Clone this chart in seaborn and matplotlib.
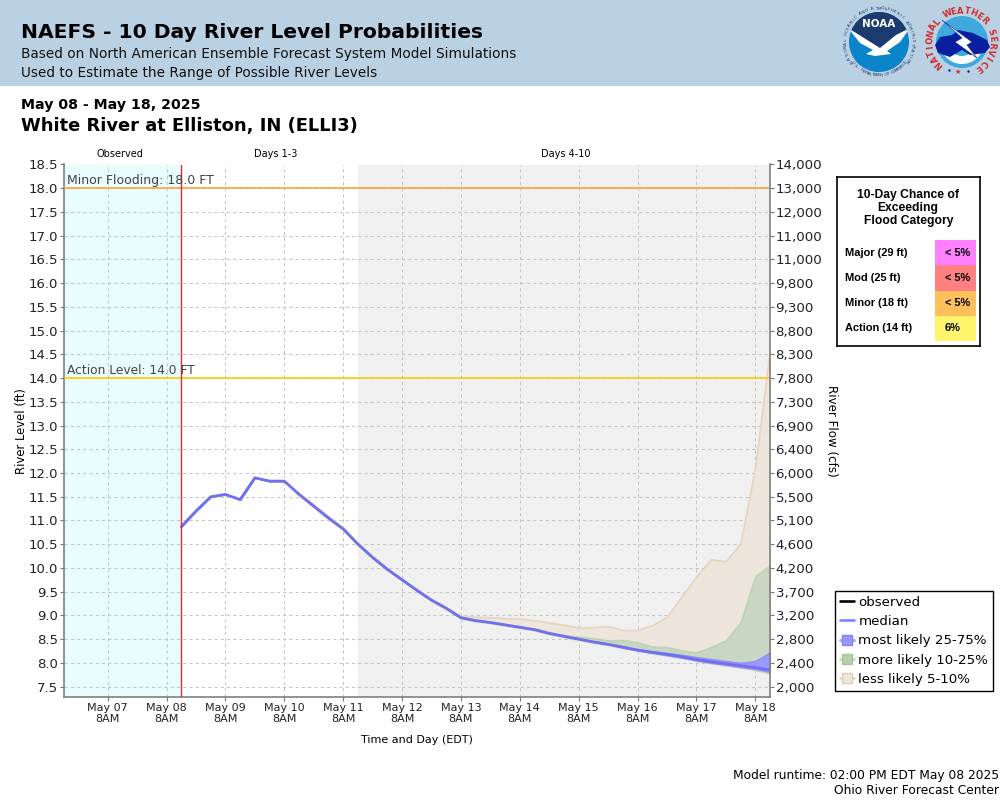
import numpy as np
import pandas as pd
import matplotlib.pyplot as plt
from matplotlib.colors import ListedColormap
from matplotlib.lines import Line2D
from matplotlib.patches import Circle, Polygon, Rectangle, Wedge
import seaborn as sns  # 시각화 라이브러리(패키지)

sns.set_style("white")
plt.rcParams['axes.unicode_minus'] = False
plt.rcParams['font.family'] = ['DejaVu Sans']
plt.rcParams['text.color'] = 'black'
plt.rcParams['axes.labelcolor'] = 'black'
plt.rcParams['ytick.color'] = 'black'

# 예측 구간 데이터 (6시간 간격, 41개)
rivdf = pd.DataFrame({
    "time": pd.date_range("2025-05-08 14:00", periods=41, freq="6h"),
    "q05": [10.87, 11.2, 11.5, 11.55, 11.44, 11.9, 11.83, 11.83, 11.54, 11.29, 11.04, 10.81, 10.49, 10.21, 9.96, 9.74, 9.52, 9.31, 9.14, 8.94,
            8.88, 8.84, 8.79, 8.74, 8.69, 8.61, 8.55, 8.49, 8.43, 8.38, 8.32, 8.26, 8.21, 8.16, 8.11, 8.05, 7.99, 7.95, 7.9, 7.85, 7.78],
    "q10": [10.87, 11.2, 11.5, 11.55, 11.44, 11.9, 11.83, 11.83, 11.54, 11.29, 11.04, 10.81, 10.49, 10.21, 9.96, 9.74, 9.52, 9.31, 9.14, 8.94,
            8.88, 8.84, 8.79, 8.74, 8.69, 8.61, 8.55, 8.49, 8.43, 8.38, 8.32, 8.26, 8.21, 8.16, 8.11, 8.05, 8.0, 7.95, 7.91, 7.86, 7.79],
    "q25": [10.87, 11.2, 11.5, 11.55, 11.44, 11.9, 11.83, 11.83, 11.55, 11.3, 11.05, 10.82, 10.5, 10.22, 9.97, 9.75, 9.53, 9.32, 9.15, 8.95,
            8.89, 8.85, 8.8, 8.75, 8.7, 8.62, 8.56, 8.5, 8.44, 8.39, 8.32, 8.26, 8.21, 8.16, 8.11, 8.05, 8.0, 7.96, 7.91, 7.87, 7.81],
    "q50": [10.87, 11.2, 11.5, 11.55, 11.44, 11.9, 11.83, 11.83, 11.55, 11.3, 11.05, 10.82, 10.5, 10.22, 9.97, 9.75, 9.53, 9.32, 9.15, 8.95,
            8.89, 8.85, 8.8, 8.75, 8.7, 8.62, 8.56, 8.5, 8.44, 8.39, 8.33, 8.27, 8.22, 8.18, 8.13, 8.07, 8.02, 7.98, 7.94, 7.9, 7.85],
    "q75": [10.87, 11.2, 11.5, 11.55, 11.44, 11.9, 11.83, 11.83, 11.55, 11.31, 11.06, 10.83, 10.51, 10.23, 9.98, 9.76, 9.54, 9.33, 9.16, 8.96,
            8.9, 8.86, 8.81, 8.76, 8.71, 8.63, 8.57, 8.51, 8.46, 8.41, 8.35, 8.29, 8.25, 8.21, 8.17, 8.12, 8.08, 8.04, 8.0, 8.04, 8.22],
    "q90": [10.87, 11.2, 11.5, 11.55, 11.44, 11.9, 11.83, 11.83, 11.56, 11.32, 11.07, 10.84, 10.52, 10.24, 9.99, 9.77, 9.55, 9.34, 9.17, 8.97,
            8.91, 8.87, 8.82, 8.77, 8.72, 8.65, 8.58, 8.55, 8.52, 8.47, 8.48, 8.43, 8.34, 8.33, 8.26, 8.22, 8.33, 8.47, 8.85, 9.82, 10.05],
    "q95": [10.87, 11.2, 11.5, 11.55, 11.44, 11.9, 11.83, 11.83, 11.58, 11.34, 11.09, 10.85, 10.52, 10.24, 9.99, 9.77, 9.55, 9.34, 9.17, 8.99,
            8.97, 8.96, 8.94, 8.93, 8.9, 8.85, 8.8, 8.74, 8.75, 8.77, 8.69, 8.69, 8.79, 8.97, 9.4, 9.82, 10.18, 10.14, 10.52, 12.13, 14.6],
})
print(rivdf.head(10))
print("=" * 80)

# 홍수 단계별 초과 확률
flooddf = pd.DataFrame({
    "category": ["Major (29 ft)", "Mod (25 ft)", "Minor (18 ft)", "Action (14 ft)"],
    "chance": ["< 5%", "< 5%", "< 5%", "6%"],
    "code": [0, 1, 2, 3],
})
print(flooddf)
print("=" * 80)

# 우측 축 유량 라벨 (아래에서 위로)
flow_labels = ["2,000", "2,400", "2,800", "3,200", "3,700", "4,200", "4,600", "5,100", "5,500", "6,000", "6,400", "6,900",
               "7,300", "7,800", "8,300", "8,800", "9,300", "9,800", "11,000", "11,000", "12,000", "13,000", "14,000"]
stage_ticks = np.arange(7.5, 18.6, 0.5)
day_ticks = pd.date_range("2025-05-07 08:00", periods=12, freq="D")

fig = plt.figure(figsize=(10, 8), dpi=100)

# 배경용 축 : 픽셀 좌표로 머리글, 로고 그리기
bg = plt.axes([0, 0, 1, 1], zorder=0)
plt.xlim(0, 1000)
plt.ylim(800, 0)
plt.axis("off")
bg.add_patch(Rectangle((0, 0), 1000, 85.5, color="#BAD1E3", lw=0))
plt.text(21, 33, "NAEFS - 10 Day River Level Probabilities", fontsize=14.6, fontweight="bold", va="center")
plt.text(21, 54, "Based on North American Ensemble Forecast System Model Simulations", fontsize=9.85, va="center", color="#111111")
plt.text(21, 73, "Used to Estimate the Range of Possible River Levels", fontsize=9.85, va="center", color="#111111")
plt.text(21, 105, "May 08 - May 18, 2025", fontsize=10.15, fontweight="bold", va="center")
plt.text(21, 126, "White River at Elliston, IN (ELLI3)", fontsize=12.9, fontweight="bold", va="center")
plt.text(120, 154, "Observed", fontsize=7, ha="center", va="center")
plt.text(276, 154, "Days 1-3", fontsize=7, ha="center", va="center")
plt.text(566, 154, "Days 4-10", fontsize=7, ha="center", va="center")
plt.text(417, 740, "Time and Day (EDT)", fontsize=8, ha="center", va="center")
plt.text(999, 776, "Model runtime: 02:00 PM EDT May 08 2025", fontsize=8.85, ha="right", va="center")
plt.text(999, 791, "Ohio River Forecast Center", fontsize=8.85, ha="right", va="center")

# NOAA 로고
disk = Circle((879, 42), 30, color="#0A85C9", lw=0)
bg.add_patch(disk)
navy = Polygon([[846, 8], [912, 8], [912, 28], [896, 36], [880, 49], [864, 40], [848, 28]], color="#1B3A6F", lw=0)
bg.add_patch(navy)
navy.set_clip_path(disk)
wing = Polygon([[848, 28], [864, 38], [880, 48], [896, 35], [910, 28], [900, 42], [887, 51], [891, 54], [875, 56], [866, 54], [873, 50], [860, 43]], color="white", lw=0)
bg.add_patch(wing)
wing.set_clip_path(disk)
plt.text(879, 24, "NOAA", color="white", fontsize=7.5, fontweight="bold", ha="center", va="center")
for word, start, stop in [("NATIONAL OCEANIC AND ATMOSPHERIC ADMINISTRATION", -125, 125), ("U.S. DEPARTMENT OF COMMERCE", 232, 128)]:
    for ang, ch in zip(np.linspace(start, stop, len(word)), word):
        plt.text(879 + 33.5 * np.sin(np.radians(ang)), 42 - 33.5 * np.cos(np.radians(ang)), ch, fontsize=3, color="#1B3A6F", ha="center", va="center",
                 rotation=-ang if start < stop else 180 - ang)

# NWS 로고
bg.add_patch(Circle((962, 42), 26, color="#3FA9DC", lw=0))
bg.add_patch(Wedge((962, 42), 22, 20, 160, color="white", lw=0, width=8))
bg.add_patch(Polygon([[935, 45], [940, 37], [952, 35], [958, 30], [973, 33], [987, 40], [990, 47], [985, 53], [970, 55], [962, 50], [950, 57], [938, 53]], color="#0A1F9E", lw=0))
bg.add_patch(Polygon([[942, 20], [962, 38], [955, 42], [977, 58], [967, 45], [972, 42]], facecolor="white", edgecolor="#0A1F9E", lw=0.4))
word = "NATIONAL WEATHER SERVICE"
for ang, ch in zip(np.linspace(-135, 145, len(word)), word):
    plt.text(961 + 31 * np.sin(np.radians(ang)), 42 - 31 * np.cos(np.radians(ang)), ch, fontsize=6, fontweight="bold", color="#D22B2B", ha="center", va="center", rotation=-ang)
plt.text(958, 72, "★", fontsize=5, color="#D22B2B", ha="center", va="center")
plt.scatter([949, 968], [70, 71], s=3, color="#0A1F9E", linewidths=0)
plt.xlim(0, 1000)
plt.ylim(800, 0)

# 메인 차트 : 왼쪽 축 (River Level)
ax = plt.axes([0.0635, 1 - 697.0 / 800, 0.7065, 532.5 / 800], zorder=2)
start = pd.Timestamp("2025-05-06 14:00")
stop = pd.Timestamp("2025-05-18 14:00")
plt.axvspan(start, pd.Timestamp("2025-05-08 14:00"), color="#E9FDFD", lw=0, zorder=0)
plt.axvspan(pd.Timestamp("2025-05-11 14:00"), stop, color="#F0F0F0", lw=0, zorder=0)
plt.grid(True, color="#C4C4C4", linestyle=(0, (3, 3)), linewidth=0.75, zorder=1)
ax.set_axisbelow(True)

plt.fill_between(rivdf["time"], rivdf["q05"], rivdf["q95"], facecolor="#EEE6DC", edgecolor="#E6D5C1", linewidth=1.3, zorder=2)
plt.fill_between(rivdf["time"], rivdf["q10"], rivdf["q90"], facecolor="#C9D6C3", edgecolor="#BDD3B3", linewidth=1.3, zorder=3)
plt.fill_between(rivdf["time"], rivdf["q25"], rivdf["q75"], facecolor="#9999FF", edgecolor="#8F8FF8", linewidth=1.0, zorder=4)
sns.lineplot(data=rivdf, x="time", y="q50", color="#6F6FF0", linewidth=1.9, zorder=5, legend=False)

plt.axhline(18.0, color="#FFA040", linewidth=1.2, zorder=3)
plt.axhline(14.0, color="#FFCC00", linewidth=1.2, zorder=3)
plt.axvline(pd.Timestamp("2025-05-08 14:00"), color="#D63030", linewidth=1.0, zorder=6)
plt.text(pd.Timestamp("2025-05-06 15:30"), 18.02, "Minor Flooding: 18.0 FT", fontsize=9, color="#444444", va="bottom", zorder=7)
plt.text(pd.Timestamp("2025-05-06 15:30"), 14.02, "Action Level: 14.0 FT", fontsize=8.8, color="#444444", va="bottom", zorder=7)

plt.xlim(start, stop)
plt.ylim(7.28, 18.5)
plt.yticks(stage_ticks, [f"{v:.1f}" for v in stage_ticks], fontsize=9.5, color="#222222")
plt.xticks(day_ticks, [d.strftime("%b %d") + "\n8AM" for d in day_ticks], fontsize=8, color="#222222", linespacing=1.2)
plt.tick_params(axis="both", length=3, width=0.8, color="#777777", bottom=True, left=True, pad=1)
plt.xlabel("")
plt.ylabel("River Level (ft)", fontsize=8.4, labelpad=0)
for side in ax.spines.values():
    side.set_color("#808080")
    side.set_linewidth(1.2)
ax.spines["top"].set_visible(False)
ax.spines["right"].set_visible(False)

# 범례
handles = [
    Line2D([], [], color="black", linewidth=1.9),
    Line2D([], [], color="#8080FF", linewidth=1.9),
    Line2D([], [], color="#A6A6FF", linewidth=2, marker="s", markersize=6.5, markerfacecolor="#9999FF", markeredgecolor="#8080F0"),
    Line2D([], [], color="#C2D9B8", linewidth=2, marker="s", markersize=6.5, markerfacecolor="#B7CFAD", markeredgecolor="#A8C89C"),
    Line2D([], [], color="#E9D6C0", linewidth=2, marker="s", markersize=6.5, markerfacecolor="#EEE6DC", markeredgecolor="#E0CDB6"),
]
plt.legend(handles, ["observed", "median", "most likely 25-75%", "more likely 10-25%", "less likely 5-10%"],
           loc="upper left", bbox_to_anchor=(0.835, 1 - 591 / 800), bbox_transform=fig.transFigure, borderaxespad=0,
           fontsize=9.6, frameon=True, fancybox=False, framealpha=1, edgecolor="black", handlelength=1.1, handletextpad=0.3,
           labelspacing=0.47, borderpad=0.36, facecolor="white")

# 오른쪽 축 (River Flow)
ax2 = plt.twinx(ax)
plt.ylim(7.28, 18.5)
plt.yticks(stage_ticks, flow_labels, fontsize=9.6, color="#222222")
plt.tick_params(axis="y", length=3, width=0.8, color="#777777", right=True, pad=1)
plt.ylabel("River Flow (cfs)", fontsize=8.6, rotation=270)
ax2.yaxis.set_label_coords(1.096, 0.5)
ax2.grid(False)
for name, side in ax2.spines.items():
    side.set_visible(name == "right")
    side.set_color("#808080")
    side.set_linewidth(1.2)
ax2.patch.set_visible(False)

# 홍수 확률 상자
box = plt.axes([0.8365, 1 - 345.5 / 800, 0.1435, 168.5 / 800], zorder=1)
plt.xticks([])
plt.yticks([])
box.set_facecolor("white")
for side in box.spines.values():
    side.set_visible(True)
    side.set_color("black")
    side.set_linewidth(1.2)
plt.text(0.5, 0.816, "10-Day Chance of\nExceeding\nFlood Category", transform=box.transAxes, ha="center", va="center",
         fontsize=8.7, fontweight="bold", family="Liberation Sans", linespacing=1.12)

cell = plt.axes([0.935, 1 - 341 / 800, 0.041, 101 / 800], zorder=2)
sns.heatmap(flooddf[["code"]], annot=flooddf[["chance"]].values, fmt="", cbar=False, xticklabels=False,
            yticklabels=flooddf["category"], cmap=ListedColormap(["#FF80FF", "#FF8080", "#FFC05C", "#FFF56B"]),
            annot_kws={"fontsize": 7.9, "fontweight": "bold", "family": "Liberation Sans", "color": "black", "ha": "left"})
for txt in cell.texts:
    txt.set_x(0.24)
plt.ylabel("")
plt.xlabel("")
plt.yticks(rotation=0, fontsize=7.9, fontweight="bold", family="Liberation Sans", ha="left", color="black")
plt.tick_params(axis="y", length=0, pad=65)

plt.savefig("out.png", dpi=100)  # 랜더링 된 것 파일로 저장
